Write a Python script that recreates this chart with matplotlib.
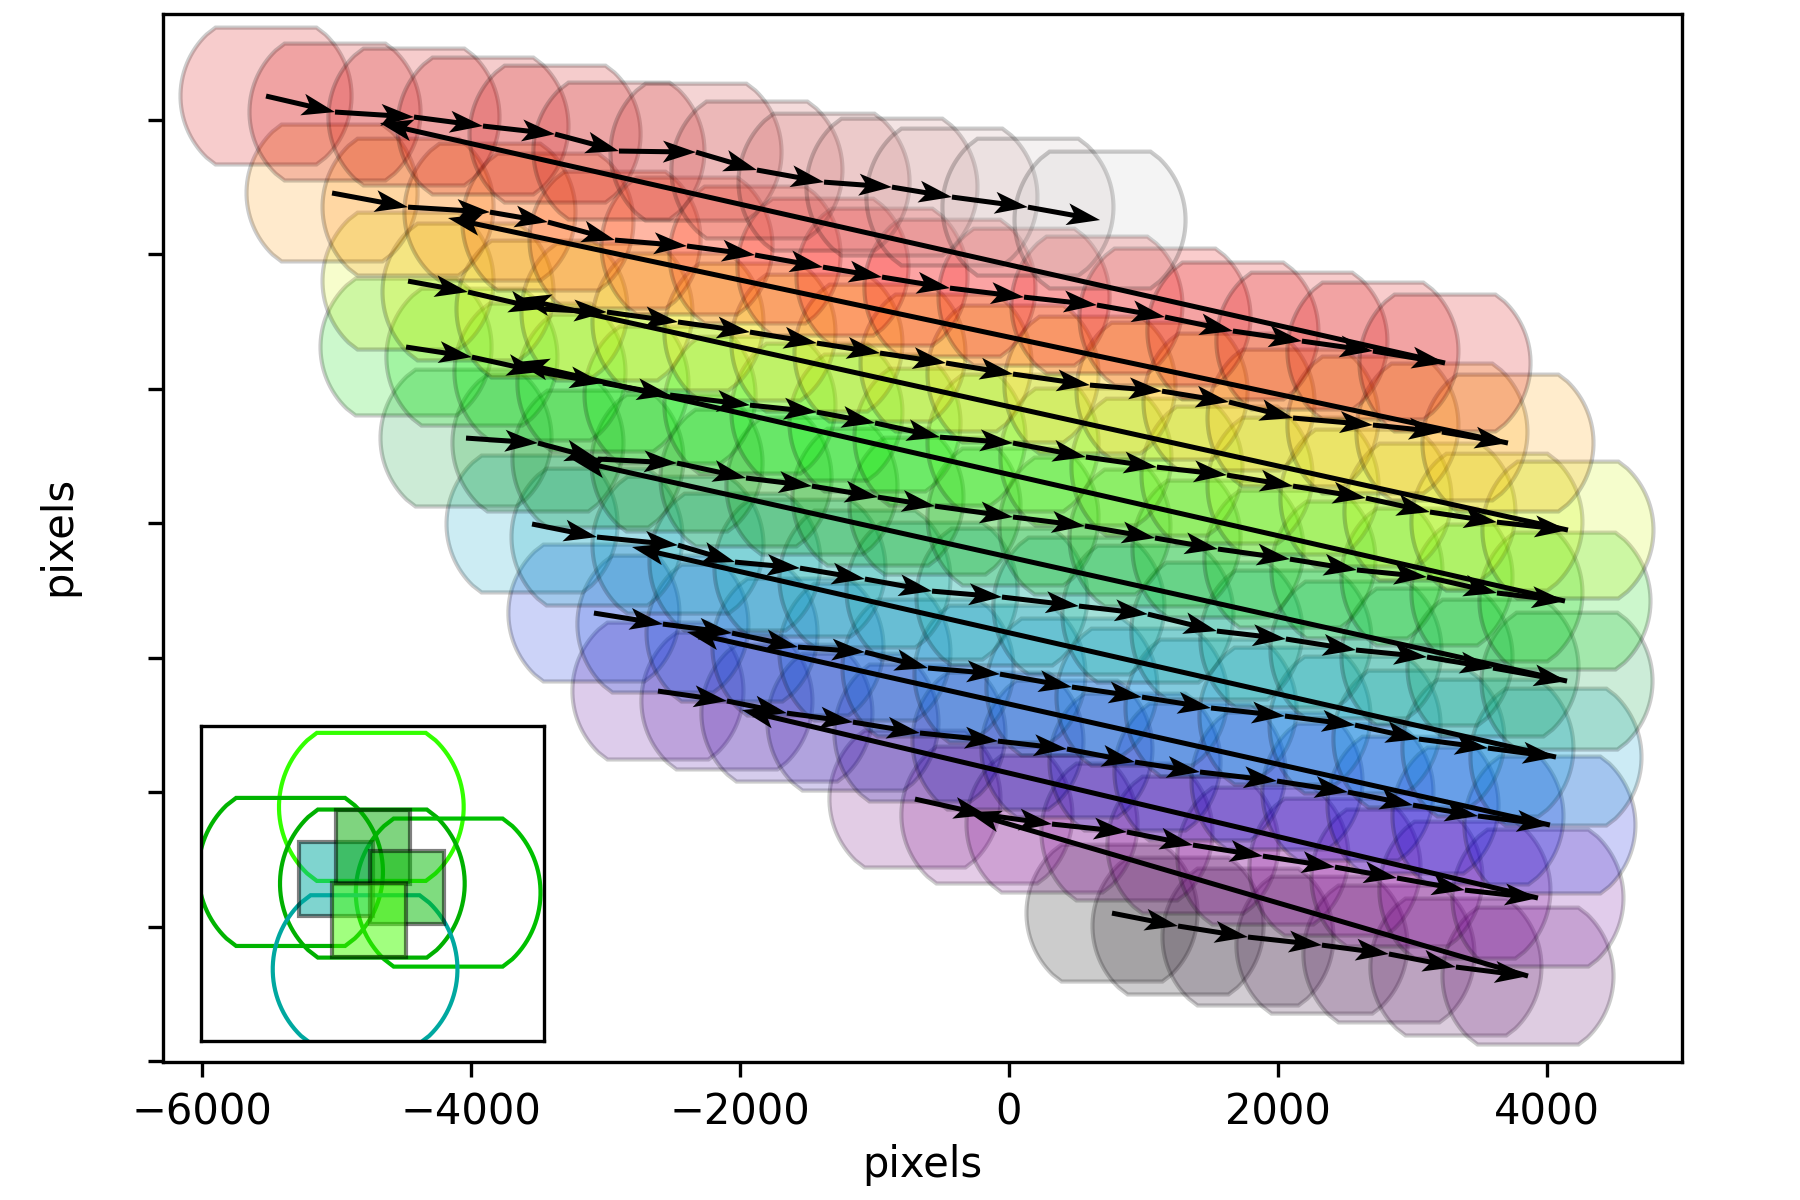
import numpy as np
import matplotlib
matplotlib.use("Agg")
import matplotlib.pyplot as plt
from matplotlib.patches import Polygon, Rectangle

# dither rows, bottom row first, in the order they were visited
row_x = [
    [766, 1257, 1777, 2327, 2825, 3323, 3859],
    [-699, -164, 320, 877, 1368, 1888, 2424, 2885, 3390, 3933],
    [-2610, -2097, -1651, -1160, -662, -82, 431, 937, 1420, 1993, 2520, 3004, 3487, 4022],
    [-3086, -2573, -2059, -1569, -1071, -602, -67, 468, 989, 1502, 2052, 2573, 3048, 3561, 4067],
    [-3546, -3063, -2461, -2037, -1554, -1071, -572, -52, 520, 1033, 1546, 2059, 2580, 3108, 3599, 4149],
    [-4037, -3502, -3056, -2468, -1955, -1465, -974, -550, 30, 565, 1086, 1554, 2089, 2587, 3108, 3628, 4134],
    [-4483, -3993, -3487, -3019, -2520, -1926, -1428, -996, -513, 30, 572, 1100, 1621, 2112, 2654, 3130, 3628, 4156],
    [-4468, -4022, -3472, -2989, -2461, -1926, -1428, -959, -468, 30, 602, 1138, 1636, 2112, 2706, 3219, 3710],
    [-5033, -4468, -3859, -3428, -2929, -2394, -1888, -1383, -944, -439, 112, 654, 1160, 1665, 2178, 2706, 3242],
    [-5524, -5011, -4424, -3911, -3375, -2900, -2327, -1874, -1375, -870, -424, 141, 677],
]
row_y = [
    [1100, 1004, 922, 862, 796, 699, 632],
    [1948, 1829, 1762, 1703, 1606, 1524, 1442, 1361, 1271, 1212],
    [2751, 2677, 2587, 2520, 2439, 2379, 2320, 2223, 2149, 2082, 2000, 1903, 1822, 1755],
    [3331, 3249, 3182, 3078, 3041, 2922, 2877, 2781, 2706, 2625, 2565, 2498, 2394, 2327, 2260],
    [3993, 3896, 3836, 3710, 3665, 3584, 3494, 3450, 3383, 3323, 3197, 3138, 3056, 3004, 2922, 2825],
    [4632, 4595, 4476, 4446, 4335, 4275, 4193, 4126, 4045, 3978, 3889, 3807, 3732, 3651, 3599, 3480, 3420],
    [5309, 5234, 5123, 5041, 4952, 4877, 4825, 4744, 4639, 4595, 4491, 4416, 4357, 4275, 4186, 4082, 4007, 3948],
    [5799, 5718, 5591, 5569, 5495, 5420, 5338, 5264, 5190, 5108, 5026, 4981, 4900, 4781, 4729, 4677, 4595],
    [6454, 6349, 6312, 6238, 6104, 6060, 5993, 5903, 5829, 5747, 5680, 5621, 5532, 5428, 5353, 5279, 5190],
    [7175, 7056, 7019, 6952, 6892, 6766, 6758, 6625, 6535, 6498, 6424, 6349, 6253],
]
# where each long return move lands, one for rows 2 to 10
return_x = [-305, -1985, -2394, -2803, -3242, -3665, -3651, -4171, -4677]
return_y = [1851, 2610, 3190, 3822, 4468, 5197, 5673, 6268, 6974]

# inset: the five pointings and the four detector squares
inset_x = [-7, 0, -563, 522, -50]
inset_y = [527, 0, 80, -62, -589]
inset_colors = ["#33ff00", "#00b000", "#00b400", "#00c000", "#00a8a0"]
square_x = [-252, 2, 236, -21]
square_y = [30, 252, -27, -252]
square_colors = ["#00aaa0", "#00aa00", "#00bb00", "#44ff00"]

FOV_R = 636
SQUARE = 508


def fov(cx, cy):
    # circular field cut flat at top and bottom
    a = np.radians(np.linspace(-46, 46, 32))
    right = np.column_stack([np.cos(a), np.sin(a)])
    top = [[0.59, 0.8], [-0.59, 0.8]]
    left = np.column_stack([-np.cos(a[::-1]), np.sin(a[::-1])])
    bottom = [[-0.59, -0.8], [0.59, -0.8]]
    pts = np.vstack([right, top, left, bottom])
    return pts * FOV_R + [cx, cy]


def arrows(ax, x, y, u, v):
    ax.quiver(x, y, u, v, angles="xy", scale_units="xy", scale=1, color="k",
              width=0.0033, headwidth=4.4, headlength=6.6, headaxislength=5.4,
              zorder=5)


fig = plt.figure(figsize=(6, 4), dpi=300)
ax = fig.add_axes([163 / 1800, 1 - 1062 / 1200, 1519 / 1800, 1048 / 1200])

all_x = np.concatenate([np.array(r, float) for r in row_x])
all_y = np.concatenate([np.array(r, float) for r in row_y])
n = len(all_x)
cmap = plt.get_cmap("nipy_spectral")
for i in range(n):
    r, g, b, _ = cmap(i / (n - 1))
    ax.add_patch(Polygon(fov(all_x[i], all_y[i]), closed=True,
                         facecolor=(r, g, b, 0.2), edgecolor=(0, 0, 0, 0.2),
                         linewidth=1))

for i in range(len(row_x)):
    x = np.array(row_x[i], float)
    y = np.array(row_y[i], float)
    arrows(ax, x[:-1], y[:-1], np.diff(x), np.diff(y))
    if i < len(return_x):
        arrows(ax, x[-1], y[-1], return_x[i] - x[-1], return_y[i] - y[-1])

ax.set_xlim(-6290, 5004)
ax.set_ylim(-7, 7785)
ax.set_xticks([-6000, -4000, -2000, 0, 2000, 4000])
ax.set_yticks(range(0, 8000, 1000))
ax.set_yticklabels([])
ax.set_xlabel("pixels", labelpad=2.6)
ax.set_ylabel("pixels")
ax.yaxis.set_label_coords(-0.055, 0.502)

ins = fig.add_axes([201 / 1800, 1 - 1041 / 1200, 343 / 1800, 315 / 1200])
for i in range(len(inset_x)):
    ins.add_patch(Polygon(fov(inset_x[i], inset_y[i]), closed=True, fill=False,
                          edgecolor=inset_colors[i], linewidth=1))
for i in range(len(square_x)):
    r, g, b, _ = matplotlib.colors.to_rgba(square_colors[i])
    ins.add_patch(Rectangle((square_x[i] - SQUARE / 2, square_y[i] - SQUARE / 2),
                            SQUARE, SQUARE, facecolor=(r, g, b, 0.5),
                            edgecolor=(0, 0, 0, 0.5), linewidth=1))
ins.set_xlim(-1180, 1182)
ins.set_ylim(-1082, 1083)
ins.set_xticks([])
ins.set_yticks([])

fig.savefig("out.png", dpi=300)
